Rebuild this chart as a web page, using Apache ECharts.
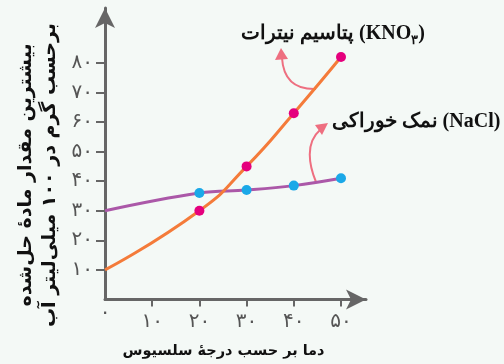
<!DOCTYPE html>
<html>
<head>
<meta charset="utf-8">
<script src="https://cdn.jsdelivr.net/npm/echarts@6/dist/echarts.min.js"></script>
<style>
  html, body { margin: 0; padding: 0; background: #f4f9f6; }
  #chart { width: 504px; height: 364px; }
</style>
</head>
<body>
<div id="chart"></div>
<script>
// temperatures (deg C) and solubility (g per 100 ml water)
const temps = [0, 20, 30, 40, 50];
const kno3 = [10, 30, 45, 63, 82];
const nacl = [30, 36, 37, 38.5, 41];
const xTicks = [10, 20, 30, 40, 50];
const yTicks = [10, 20, 30, 40, 50, 60, 70, 80];

const faDigits = '۰۱۲۳۴۵۶۷۸۹';
function fa(v) {
  return String(v).replace(/[0-9]/g, d => faDigits[+d]);
}

// no marker on the first point (origin of each curve)
function pts(ys) {
  return temps.map((t, i) => i === 0
    ? { value: [t, ys[i]], symbol: 'none' }
    : [t, ys[i]]);
}

const chart = echarts.init(document.getElementById('chart'));
const axisColor = '#666666';
const arrowColor = '#ee6f80';

chart.setOption({
  backgroundColor: '#f4f9f6',
  animation: false,
  grid: { left: 105, right: 138, top: 8, bottom: 64.6 },
  xAxis: {
    type: 'value', min: 0, max: 55.3,
    name: 'دما بر حسب درجهٔ سلسیوس',
    nameLocation: 'middle', nameGap: 44,
    nameTextStyle: { fontSize: 14.5, fontWeight: 'bold', color: '#111', fontFamily: 'DejaVu Sans', padding: [0, 24, 0, 0] },
    axisLine: { lineStyle: { color: axisColor, width: 3 }, symbol: ['none', 'arrow'], symbolSize: [15, 20] },
    axisTick: { show: true, customValues: xTicks, length: 7, lineStyle: { color: axisColor, width: 2 } },
    axisLabel: {
      customValues: [0].concat(xTicks), margin: 3,
      formatter: v => v === 0 ? '{z|۰}' : '{n|' + fa(v) + '}',
      rich: {
        z: { fontSize: 20, color: '#555', fontFamily: 'DejaVu Sans', padding: [0, 0, 0, 0] },
        n: { fontSize: 20, color: '#555', fontFamily: 'DejaVu Sans', padding: [9, 0, 0, 0] }
      }
    },
    splitLine: { show: false }
  },
  yAxis: {
    type: 'value', min: 0, max: 98.6,
    axisLine: { show: true, lineStyle: { color: axisColor, width: 3 }, symbol: ['none', 'arrow'], symbolSize: [15, 20] },
    axisTick: { show: true, customValues: yTicks, length: 9, lineStyle: { color: axisColor, width: 2 } },
    axisLabel: {
      customValues: yTicks, margin: 12,
      formatter: v => fa(v),
      fontSize: 20, color: '#555', fontFamily: 'DejaVu Sans'
    },
    splitLine: { show: false }
  },
  series: [
    {
      name: 'NaCl', type: 'line', smooth: 0.4,
      data: pts(nacl),
      showAllSymbol: true, symbol: 'circle', symbolSize: 10,
      lineStyle: { color: '#ab58a8', width: 3 },
      itemStyle: { color: '#1aa8e8' },
      z: 2
    },
    {
      name: 'KNO3', type: 'line', smooth: 0.55,
      data: pts(kno3),
      showAllSymbol: true, symbol: 'circle', symbolSize: 10,
      lineStyle: { color: '#f47b3a', width: 3 },
      itemStyle: { color: '#e5007d' },
      z: 3
    }
  ],
  graphic: [
    // y axis title, two rotated lines
    {
      type: 'text', x: 38, y: 175, rotation: Math.PI / 2,
      style: {
        text: 'بیشترین مقدار مادهٔ حل‌شده\nبرحسب گرم در ۱۰۰ میلی‌لیتر آب',
        fontSize: 19, fontWeight: 'bold', fill: '#111', fontFamily: 'DejaVu Sans',
        align: 'center', verticalAlign: 'middle', lineHeight: 24
      }
    },
    // KNO3 label and its arrow
    {
      type: 'text', x: 333, y: 34,
      style: {
        text: '{a|پتاسیم نیترات (KNO}{s|۳}{a|)}',
        align: 'center', verticalAlign: 'middle',
        rich: {
          a: { fontSize: 20, fontWeight: 'bold', fill: '#111', fontFamily: 'Liberation Serif', lineHeight: 26 },
          s: { fontSize: 13, fontWeight: 'bold', fill: '#111', fontFamily: 'Liberation Serif', lineHeight: 26, verticalAlign: 'bottom' }
        }
      }
    },
    {
      type: 'bezierCurve',
      shape: { x1: 316, y1: 89, cpx1: 284, cpy1: 90, x2: 282, y2: 58 },
      style: { stroke: arrowColor, lineWidth: 2, fill: 'none' }
    },
    {
      type: 'polygon',
      shape: { points: [[281, 48], [275, 60], [288, 59]] },
      style: { fill: arrowColor }
    },
    // NaCl label and its arrow
    {
      type: 'text', x: 416, y: 122,
      style: {
        text: 'نمک خوراکی (NaCl)',
        align: 'center', verticalAlign: 'middle',
        fontSize: 20, fontWeight: 'bold', fill: '#111', fontFamily: 'Liberation Serif'
      }
    },
    {
      type: 'bezierCurve',
      shape: { x1: 316, y1: 182, cpx1: 309, cpy1: 165, cpx2: 305, cpy2: 143, x2: 320, y2: 130 },
      style: { stroke: arrowColor, lineWidth: 2, fill: 'none' }
    },
    {
      type: 'polygon',
      shape: { points: [[328, 123], [315, 125], [322, 135]] },
      style: { fill: arrowColor }
    }
  ]
});
</script>
</body>
</html>
